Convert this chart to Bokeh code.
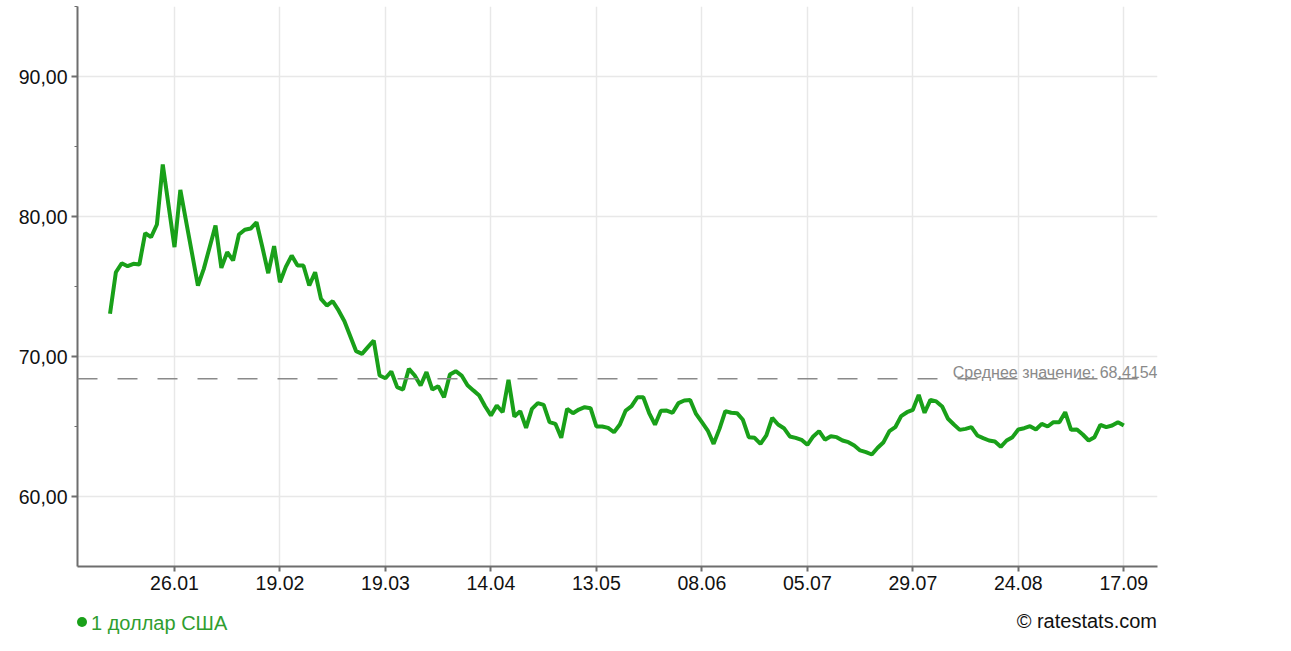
from bokeh.plotting import figure
from bokeh.models import (Range1d, FixedTicker, CustomJSTickFormatter, Span, Label,
                          ColumnDataSource, Div)
from bokeh.layouts import column
from bokeh.embed import file_html
from bokeh.resources import INLINE

# ---- data ----
usd_rub = [
    73.05, 76.02, 76.66, 76.45, 76.62, 76.57, 78.81, 78.52, 79.43, 83.71,
    80.76, 77.81, 81.90, 79.62, 77.35, 75.07, 76.26, 77.81, 79.36, 76.33,
    77.45, 76.86, 78.71, 79.05, 79.14, 79.59, 77.80, 75.95, 77.88, 75.31,
    76.40, 77.21, 76.50, 76.50, 75.07, 76.02, 74.12, 73.64, 73.95, 73.29,
    72.52, 71.45, 70.38, 70.19, 70.67, 71.14, 68.64, 68.45, 68.93, 67.81,
    67.64, 69.12, 68.64, 67.93, 68.88, 67.64, 67.88, 67.09, 68.71, 68.95,
    68.64, 67.95, 67.58, 67.22, 66.45, 65.79, 66.50, 66.02, 68.33, 65.71,
    66.10, 64.90, 66.26, 66.67, 66.55, 65.31, 65.19, 64.19, 66.26, 65.95,
    66.21, 66.38, 66.31, 65.00, 65.00, 64.90, 64.59, 65.14, 66.14, 66.45,
    67.09, 67.09, 65.96, 65.13, 66.12, 66.14, 65.98, 66.67, 66.86, 66.90,
    65.90, 65.31, 64.71, 63.76, 64.83, 66.10, 65.98, 65.95, 65.48, 64.24,
    64.19, 63.76, 64.36, 65.62, 65.14, 64.88, 64.29, 64.19, 64.05, 63.69,
    64.29, 64.67, 64.06, 64.31, 64.24, 64.00, 63.88, 63.64, 63.29, 63.17,
    63.00, 63.48, 63.88, 64.67, 64.95, 65.74, 66.02, 66.19, 67.26, 65.98,
    66.90, 66.79, 66.43, 65.55, 65.14, 64.76, 64.83, 64.95, 64.36, 64.17,
    64.00, 63.93, 63.55, 64.00, 64.24, 64.79, 64.88, 65.02, 64.79, 65.19,
    65.00, 65.31, 65.31, 66.02, 64.76, 64.79, 64.43, 64.00, 64.24, 65.12,
    64.95, 65.07, 65.31, 65.07,
]
tick_labels = ["26.01", "19.02", "19.03", "14.04", "13.05",
               "08.06", "05.07", "29.07", "24.08", "17.09"]
first_tick_index = 11
tick_every = 18
avg_value = 68.4154
series_name = "1 доллар США"
source_text = "© ratestats.com"
y_major = [60, 70, 80, 90]
y_minor = [65, 75, 85, 95]

# ---- styling ----
FONT = "Liberation Sans"
GREEN = "#19a019"
LEGEND_GREEN = "#2f9e2f"
GRID = "#e8e8e8"
AXIS = "#6e6e6e"

idx = list(range(len(usd_rub)))
src = ColumnDataSource(dict(x=idx, y=usd_rub))
tick_pos = [first_tick_index + k * tick_every for k in range(len(tick_labels))]

W, H = 1275, 600
p = figure(width=W, height=H, output_backend="svg", toolbar_location=None,
           x_range=Range1d(-5.55, 178.75), y_range=Range1d(55, 95),
           min_border_left=77, min_border_right=118, min_border_top=6,
           min_border_bottom=34)
p.outline_line_color = None
p.background_fill_color = "white"
p.border_fill_color = "white"

# grids
p.xgrid.grid_line_color = GRID
p.ygrid.grid_line_color = GRID
p.xgrid.grid_line_width = 1.5
p.ygrid.grid_line_width = 1.5

# x axis
p.xaxis.ticker = FixedTicker(ticks=tick_pos)
p.xaxis.major_label_overrides = {t: lab for t, lab in zip(tick_pos, tick_labels)}
p.xaxis.major_tick_in = 0
p.xaxis.major_tick_out = 5

# y axis
p.yaxis.ticker = FixedTicker(ticks=y_major, minor_ticks=y_minor)
p.yaxis.formatter = CustomJSTickFormatter(code="return tick.toFixed(2).replace('.', ',');")
p.yaxis.major_tick_in = 0
p.yaxis.major_tick_out = 6
p.yaxis.minor_tick_in = 0
p.yaxis.minor_tick_out = 3

for ax in (p.xaxis, p.yaxis):
    ax.axis_line_color = AXIS
    ax.axis_line_width = 2
    ax.major_tick_line_color = AXIS
    ax.major_tick_line_width = 2
    ax.minor_tick_line_color = AXIS
    ax.major_label_text_font = FONT
    ax.major_label_text_font_size = "19.5px"
    ax.major_label_text_color = "#111111"
    ax.major_label_standoff = 4
p.xaxis.minor_tick_line_color = None

# average line
p.add_layout(Span(location=avg_value, dimension="width", line_color="#8a8a8a",
                  line_width=1.5, line_dash="20 20"))
avg_txt = "Среднее значение: " + f"{avg_value:.4f}".replace(".", ",")
p.add_layout(Label(x=p.x_range.end, y=avg_value, text=avg_txt, text_align="right",
                   text_baseline="alphabetic", y_offset=6, text_font=FONT,
                   text_font_size="16px", text_color="#8a8a8a"))

# data line
p.line("x", "y", source=src, line_color=GREEN, line_width=4)

# legend / credit row below the chart
footer_html = (
    f"<div style=\"position:relative;width:1080px;margin-left:77px;height:42px;"
    f"line-height:42px;font-family:'{FONT}';font-size:20px;white-space:nowrap;\">"
    f"<span style=\"display:inline-block;width:10px;height:10px;border-radius:50%;"
    f"background:{GREEN};vertical-align:middle;margin-right:4px;position:relative;top:-1px;\"></span>"
    f"<span style=\"color:{LEGEND_GREEN};vertical-align:middle;\">{series_name}</span>"
    f"<span style=\"position:absolute;right:0;top:0;color:#111111;\">{source_text}</span>"
    f"</div>"
)
footer = Div(text=footer_html, width=W, height=42, margin=0)

layout = column(p, footer, spacing=0)
open("out.html", "w").write(file_html(layout, INLINE))
